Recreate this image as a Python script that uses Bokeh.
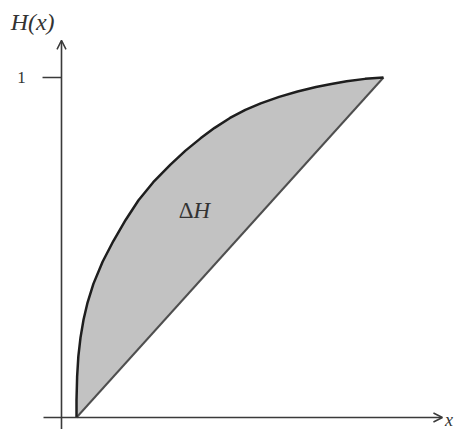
from bokeh.plotting import figure
from bokeh.models import Arrow, OpenHead, Range1d
from bokeh.core.properties import value
from bokeh.embed import file_html
from bokeh.resources import INLINE

# Curve H(x)
curve_x = [0.0, 0.0, 0.002, 0.006, 0.013, 0.023, 0.036, 0.055, 0.085, 0.12, 0.16, 0.202,
           0.25, 0.306, 0.355, 0.404, 0.45, 0.5, 0.55, 0.6, 0.66, 0.72, 0.78, 0.83, 0.88, 0.94, 1.0]
curve_y = [0.0, 0.05, 0.12, 0.18, 0.235, 0.288, 0.338, 0.393, 0.458, 0.519, 0.581, 0.639,
           0.692, 0.744, 0.785, 0.821, 0.852, 0.881, 0.905, 0.924, 0.943, 0.959, 0.972, 0.981, 0.989, 0.996, 1.0]
diag_x = [0.0, 1.0]
diag_y = [0.0, 1.0]
ytick_vals = [1.0]
ytick_labels = ["1"]

serif = value("Liberation Serif")

p = figure(width=454, height=429, output_backend="svg", toolbar_location=None,
           x_range=Range1d(-0.2476, 1.2313), y_range=Range1d(-0.0353, 1.2265),
           min_border=0, outline_line_color=None)
p.axis.visible = False
p.grid.visible = False
p.xaxis.visible = False
p.yaxis.visible = False

# filled region between curve and diagonal
p.patch(curve_x, curve_y, fill_color="#c2c2c2", line_color=None)
p.line(diag_x, diag_y, line_color="#4f4f4f", line_width=2)
p.line(curve_x, curve_y, line_color="#1e1e1e", line_width=2.5, line_join="round")

# axes with arrows
p.add_layout(Arrow(end=OpenHead(size=9, line_width=1.5, line_color="#3a3a3a"),
                   x_start=-0.1075, y_start=0.0, x_end=1.192, y_end=0.0,
                   line_color="#3a3a3a", line_width=1.6))
p.add_layout(Arrow(end=OpenHead(size=9, line_width=1.5, line_color="#3a3a3a"),
                   x_start=-0.0489, y_start=-0.0353, x_end=-0.0489, y_end=1.109,
                   line_color="#3a3a3a", line_width=1.6))

# tick at 1
for yv in ytick_vals:
    p.line([-0.1107, -0.0489], [yv, yv], line_color="#3a3a3a", line_width=1.6)
p.text(x=[-0.179] * len(ytick_vals), y=ytick_vals, text=ytick_labels, text_font=serif,
       text_font_size="17px", text_align="center", text_baseline="middle", text_color="#333333")

# labels
p.text(x=[-0.143], y=[1.162], text=["H(x)"], text_font=serif, text_font_style="italic",
       text_font_size="24px", text_align="center", text_baseline="middle", text_color="#333333")
p.text(x=[1.213], y=[-0.006], text=["x"], text_font=serif, text_font_style="italic",
       text_font_size="18px", text_align="center", text_baseline="middle", text_color="#333333")
p.text(x=[0.381], y=[0.609], text=["Δ"], text_font=serif,
       text_font_size="23px", text_align="right", text_baseline="middle", text_color="#333333")
p.text(x=[0.381], y=[0.609], text=["H"], text_font=serif, text_font_style="italic",
       text_font_size="23px", text_align="left", text_baseline="middle", text_color="#333333")

open("out.html", "w").write(file_html(p, INLINE))
